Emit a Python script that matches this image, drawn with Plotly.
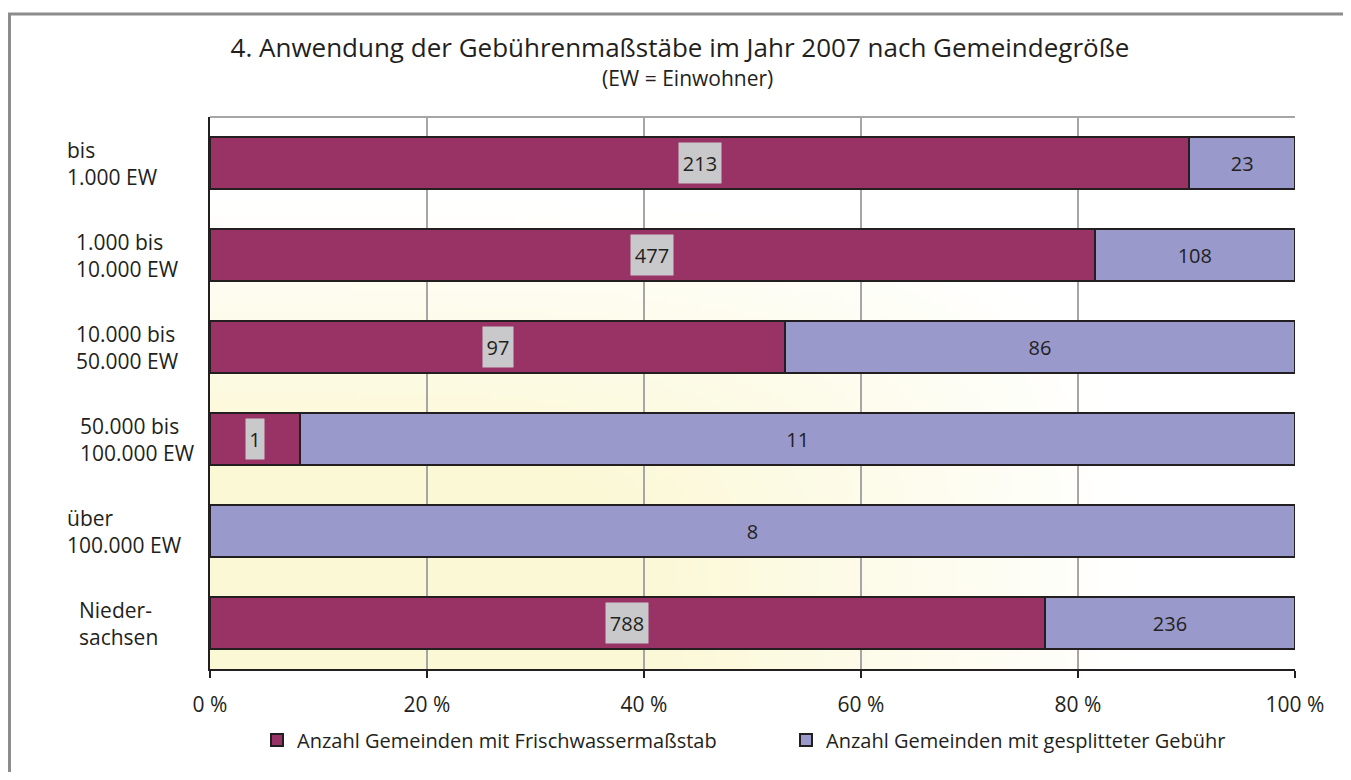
import base64
import struct
import zlib

import plotly.graph_objects as go

# Daten
kategorien = ["bis<br>1.000 EW", "1.000 bis<br>10.000 EW", "10.000 bis<br>50.000 EW",
              "50.000 bis<br>100.000 EW", "über<br>100.000 EW", "Nieder-<br>sachsen"]
frischwasser = [213, 477, 97, 1, 0, 788]
gesplittet = [23, 108, 86, 11, 8, 236]
x_ticks = [0, 20, 40, 60, 80, 100]

name_frisch = "Anzahl Gemeinden mit Frischwassermaßstab"
name_split = "Anzahl Gemeinden mit gesplitteter Gebühr"

# Einrückung der Kategorietexte (px)
label_shift = [0, 9, 9, 13, 0, 12]

FONT = "Open Sans"
TXT = "#231f20"
OFF = 8                      # Seitenrand des Browsers
W, H = 1351 - 2 * OFF, 780 - 2 * OFF
# Plotfläche in Bildschirmkoordinaten
X0, X1, Y0, Y1 = 210, 1295, 117, 677
L, T = X0 - OFF, Y0 - OFF
R, B = W - (X1 - OFF), H - (Y1 - OFF)
PW, PH = X1 - X0, Y1 - Y0


def px_x(px):
    return (px - X0) / PW


def px_y(py):
    return (Y1 - py) / PH


def gradient_png(w=240, h=120):
    # hellgelber Verlauf von unten links nach oben rechts
    raw = bytearray()
    for j in range(h):
        v = 1 - j / (h - 1)
        raw.append(0)
        for i in range(w):
            u = i / (w - 1)
            m = (u ** 4 + v ** 4) ** 0.25
            t = min(max((0.85 - m) / 0.45, 0.0), 1.0)
            raw += bytes([round(255 - 4 * t), round(255 - 7 * t), round(255 - 41 * t)])

    def chunk(tag, data):
        c = struct.pack(">I", len(data)) + tag + data
        return c + struct.pack(">I", zlib.crc32(tag + data) & 0xffffffff)

    png = b"\x89PNG\r\n\x1a\n"
    png += chunk(b"IHDR", struct.pack(">IIBBBBB", w, h, 8, 2, 0, 0, 0))
    png += chunk(b"IDAT", zlib.compress(bytes(raw), 9))
    png += chunk(b"IEND", b"")
    return "data:image/png;base64," + base64.b64encode(png).decode()


fig = go.Figure()
fig.add_trace(go.Bar(
    y=kategorien, x=frischwasser, orientation="h", name=name_frisch,
    marker=dict(color="#993366", line=dict(color=TXT, width=2)),
    width=0.56, hoverinfo="x+y",
))
fig.add_trace(go.Bar(
    y=kategorien, x=gesplittet, orientation="h", name=name_split,
    marker=dict(color="#9999cc", line=dict(color=TXT, width=2)),
    width=0.56, text=[str(g) for g in gesplittet], textposition="inside",
    insidetextanchor="middle", textangle=0,
    textfont=dict(family=FONT, size=20, color=TXT), hoverinfo="x+y",
))

# Beschriftung der Frischwasser-Balken mit grauem Kasten
for kat, f, g in zip(kategorien, frischwasser, gesplittet):
    if f == 0:
        continue
    anteil = 100 * f / (f + g)
    fig.add_annotation(
        x=anteil / 2, y=kat, xref="x", yref="y", text=str(f), showarrow=False,
        font=dict(family=FONT, size=20, color=TXT), bgcolor="#c9c9cb",
        width=12 * len(str(f)) + 2, height=36, borderpad=2,
    )

# Kategorien links
for kat, dx in zip(kategorien, label_shift):
    fig.add_annotation(
        x=px_x(65), y=kat, xref="paper", yref="y", text=kat, showarrow=False,
        xanchor="left", align="left", xshift=dx,
        font=dict(family=FONT, size=21, color=TXT),
    )

fig.add_annotation(
    x=px_x(687), y=px_y(77), xref="paper", yref="paper", text="(EW = Einwohner)",
    showarrow=False, xanchor="center", yanchor="middle",
    font=dict(family=FONT, size=21, color=TXT),
)

# Rahmen (oben und links) als offener Pfad
fx0, fx1 = px_x(9.5), px_x(1360)
fy0, fy1 = px_y(12.5), px_y(790)
fig.add_shape(type="path", xref="paper", yref="paper",
              path=f"M{fx0},{fy1} L{fx0},{fy0} L{fx1},{fy0}",
              line=dict(color="#8c8c8c", width=3), fillcolor="rgba(0,0,0,0)")
fig.add_shape(type="line", xref="paper", yref="paper", x0=0, x1=1, y0=1, y1=1,
              line=dict(color="#a6a6a6", width=2))

fig.add_layout_image(
    source=gradient_png(), xref="paper", yref="paper", x=0, y=1, sizex=1, sizey=1,
    xanchor="left", yanchor="top", sizing="stretch", layer="below",
)

fig.update_layout(
    width=W, height=H,
    barmode="stack", barnorm="percent",
    paper_bgcolor="white", plot_bgcolor="rgba(0,0,0,0)",
    margin=dict(l=L, r=R, t=T, b=B),
    title=dict(text="4. Anwendung der Gebührenmaßstäbe im Jahr 2007 nach Gemeindegröße",
               x=(680 - OFF) / W, xref="container", xanchor="center",
               y=1 - (48 - OFF) / H, yref="container", yanchor="middle",
               font=dict(family=FONT, size=26, color=TXT)),
    font=dict(family=FONT, size=20, color=TXT),
    legend=dict(orientation="h", x=px_x(257), y=px_y(749), xanchor="left", yanchor="middle",
                entrywidth=484, entrywidthmode="pixels", traceorder="normal",
                font=dict(family=FONT, size=20, color=TXT), bgcolor="rgba(0,0,0,0)"),
    showlegend=True,
)
fig.update_xaxes(
    range=[0, 100], tickmode="array", tickvals=x_ticks,
    ticktext=[f"{t} %" for t in x_ticks], showgrid=True,
    gridcolor="#a6a6a6", gridwidth=2, showline=True, linecolor=TXT, linewidth=2,
    ticks="outside", ticklen=7, tickwidth=2, tickcolor=TXT, zeroline=False,
    ticklabelstandoff=9, tickfont=dict(family=FONT, size=21, color=TXT),
)
fig.update_yaxes(
    autorange="reversed", showticklabels=False, showgrid=False, showline=True,
    linecolor=TXT, linewidth=2, ticks="",
)

fig.write_html("out.html")
